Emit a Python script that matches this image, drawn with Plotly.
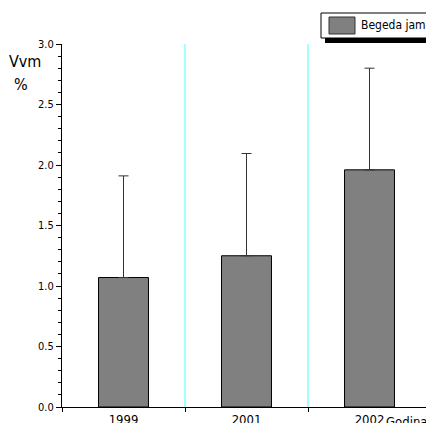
import plotly.graph_objects as go

years = ["1999", "2001", "2002"]
vvm = [1.07, 1.25, 1.96]
vvm_sd = [0.84, 0.845, 0.84]
y_ticks = [0.0, 0.5, 1.0, 1.5, 2.0, 2.5, 3.0]
series_name = "Begeda jama"

FONT = "DejaVu Sans Condensed, Liberation Sans Narrow, Arial, sans-serif"

# page body has an 8px margin, so the figure starts at (8, 8)
OFF = 8
L, T, R, B = 62, 44, 431, 407          # plot area in window pixels
PW, PH = R - L, B - T


def px(xw):
    return (xw - L) / PW


def py(yw):
    return (B - yw) / PH


fig = go.Figure()
fig.add_trace(go.Bar(
    x=years, y=vvm, name=series_name, width=0.406,
    marker=dict(color="#808080", line=dict(color="#000000", width=1)),
    error_y=dict(type="data", symmetric=False, array=vvm_sd,
                 arrayminus=[0] * len(vvm_sd), color="#333333",
                 thickness=1, width=5),
    showlegend=False,
))

# cyan separators at category boundaries
for xb in [0.5, 1.5]:
    fig.add_shape(type="line", xref="x", yref="paper", x0=xb, x1=xb, y0=0, y1=1,
                  line=dict(color="#66ffff", width=1.2), layer="below")

# manual legend box (shadow, frame, swatch)
fig.add_shape(type="rect", xref="paper", yref="paper",
              x0=px(325), x1=px(440), y0=py(43), y1=py(37),
              fillcolor="black", line=dict(width=0))
fig.add_shape(type="rect", xref="paper", yref="paper",
              x0=px(321), x1=px(440), y0=py(38), y1=py(13),
              fillcolor="white", line=dict(color="black", width=1))
fig.add_shape(type="rect", xref="paper", yref="paper",
              x0=px(329), x1=px(355), y0=py(34), y1=py(17),
              fillcolor="#808080", line=dict(color="#333333", width=1))
fig.add_annotation(text=series_name, xref="paper", yref="paper",
                   x=px(359), y=py(25.5), xanchor="left", yanchor="middle",
                   showarrow=False, font=dict(family=FONT, size=12, color="black"))

# axis titles
fig.add_annotation(text="Vvm", xref="paper", yref="paper", x=px(25),
                   y=py(61), xanchor="center", yanchor="middle",
                   showarrow=False, font=dict(family=FONT, size=16, color="black"))
fig.add_annotation(text="%", xref="paper", yref="paper", x=px(21),
                   y=py(84), xanchor="center", yanchor="middle",
                   showarrow=False, font=dict(family=FONT, size=16, color="black"))
fig.add_annotation(text="Godina", xref="paper", yref="paper", x=px(429), y=0,
                   xanchor="right", yanchor="top", yshift=-5,
                   showarrow=False, font=dict(family=FONT, size=13, color="black"))

fig.update_layout(
    width=434 - OFF, height=423 - OFF,
    margin=dict(l=L - OFF, r=434 - R, t=T - OFF, b=423 - B, autoexpand=False),
    paper_bgcolor="white", plot_bgcolor="white",
    font=dict(family=FONT, color="black"),
    showlegend=False,
    xaxis=dict(type="category", range=[-0.5, 2.5], showline=True, linecolor="black",
               linewidth=1, ticks="outside", tickson="boundaries", ticklen=4,
               tickcolor="black", showgrid=False, tickfont=dict(size=13),
               automargin=False),
    yaxis=dict(range=[0, 3.0], showline=True, linecolor="black", linewidth=1,
               tickvals=y_ticks, ticktext=[f"{v:.1f}" for v in y_ticks],
               ticks="outside", ticklen=5, tickcolor="black", showgrid=False,
               zeroline=False, tickfont=dict(size=11), automargin=False,
               minor=dict(dtick=0.1, ticks="outside", ticklen=3, tickcolor="black",
                          showgrid=False)),
)

fig.write_html("out.html")
